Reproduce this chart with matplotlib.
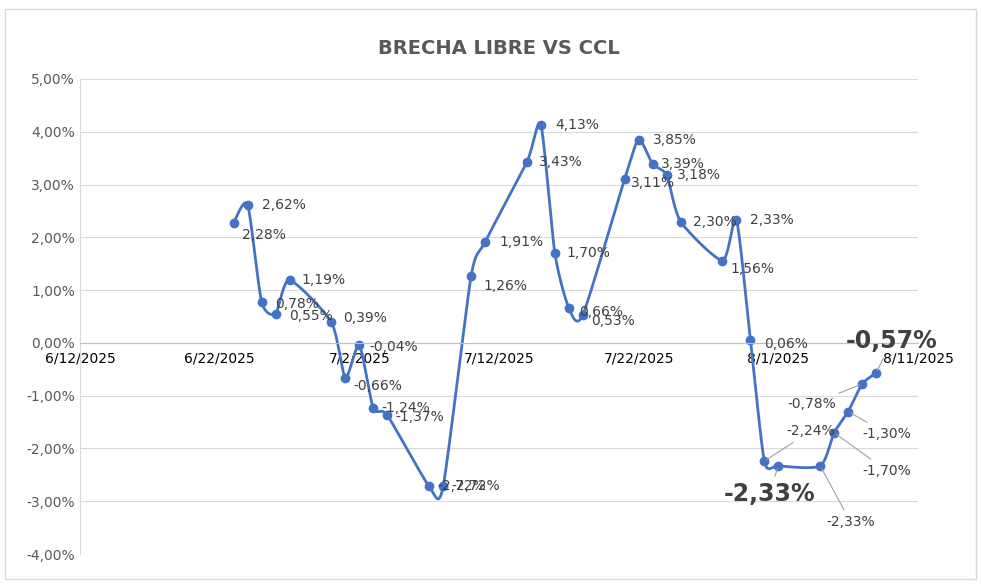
import numpy as np
import matplotlib
matplotlib.use('Agg')
import matplotlib.pyplot as plt
import matplotlib.dates as mdates
import pandas as pd

dates = ['2025-06-23', '2025-06-24', '2025-06-25', '2025-06-26', '2025-06-27', '2025-06-30',
         '2025-07-01', '2025-07-02', '2025-07-03', '2025-07-04', '2025-07-07', '2025-07-08',
         '2025-07-10', '2025-07-11', '2025-07-14', '2025-07-15', '2025-07-16', '2025-07-17',
         '2025-07-18', '2025-07-21', '2025-07-22', '2025-07-23', '2025-07-24', '2025-07-25',
         '2025-07-28', '2025-07-29', '2025-07-30', '2025-07-31', '2025-08-01', '2025-08-04',
         '2025-08-05', '2025-08-06', '2025-08-07', '2025-08-08']
values = [2.28, 2.62, 0.78, 0.55, 1.19, 0.39, -0.66, -0.04, -1.24, -1.37, -2.72, -2.72,
          1.26, 1.91, 3.43, 4.13, 1.70, 0.66, 0.53, 3.11, 3.85, 3.39, 3.18, 2.30,
          1.56, 2.33, 0.06, -2.24, -2.33, -2.33, -1.70, -1.30, -0.78, -0.57]
# label offsets in pixels (dx, dy)
offsets = [(8, -12), (14, 0), (14, -2), (14, -2), (12, 0), (12, 4), (8, -8), (10, -2), (8, 0), (8, -2),
           (8, 0), (8, 0), (12, -10), (14, 0), (12, 0), (14, 0), (12, 0), (10, -4), (8, -6), (6, -4),
           (14, 0), (8, 0), (10, 0), (12, 0), (8, -8), (14, 0), (14, -4), (22, 30), (-55, -28),
           (6, -56), (28, -38), (14, -22), (-75, -20), (-30, 32)]
big = [28, 33]

x = mdates.date2num(pd.to_datetime(dates))
y = np.array(values)

# Bezier smoothing with reduced tangents, close to Excel's smoothed line
xs, ys = [], []
px = np.concatenate([[x[0]], x, [x[-1]]])
py = np.concatenate([[y[0]], y, [y[-1]]])
t = np.linspace(0, 1, 20)
k = 0.25
for i in range(1, len(px) - 2):
    for arr, out in ((px, xs), (py, ys)):
        p0, p1, p2, p3 = arr[i-1], arr[i], arr[i+1], arr[i+2]
        c1 = p1 + k * (p2 - p0) / 2 * 0.9
        c2 = p2 - k * (p3 - p1) / 2 * 0.9
        out.extend((1-t)**3*p1 + 3*(1-t)**2*t*c1 + 3*(1-t)*t**2*c2 + t**3*p2)

fig = plt.figure(figsize=(9.81, 5.85), dpi=100)
ax = fig.add_axes([80/981, 1-554/585, 838/981, (554-79)/585])
col = '#4472C4'
ax.plot(xs, ys, color=col, lw=2)
ax.plot(x, y, 'o', color=col, ms=6)

for i, (xi, yi) in enumerate(zip(x, y)):
    lab = f'{yi:.2f}%'.replace('.', ',')
    dx, dy = offsets[i]
    kw = dict(fontsize=17, fontweight='bold') if i in big else dict(fontsize=10)
    far = abs(dx) > 20 or abs(dy) > 20
    ax.annotate(lab, (xi, yi), xytext=(dx, dy), textcoords='offset pixels',
                va='center', ha='left', color='#404040',
                arrowprops=dict(arrowstyle='-', color='#A0A0A0', lw=0.8) if far else None, **kw)

ticks = pd.date_range('2025-06-12', '2025-08-11', freq='10D')
ax.set_xlim(mdates.date2num(ticks[0]), mdates.date2num(ticks[-1]))
ax.set_xticks(mdates.date2num(ticks))
ax.set_xticklabels([f'{d.month}/{d.day}/{d.year}' for d in ticks], fontsize=10, color='#595959')
ax.spines['bottom'].set_position(('data', 0))
ax.tick_params(axis='x', length=0, pad=6)
ax.tick_params(axis='y', length=0, labelsize=10, colors='#595959')
ax.set_ylim(-4, 5)
ax.set_yticks(np.arange(-4, 5.1, 1))
ax.set_yticklabels([f'{v:.2f}%'.replace('.', ',') for v in np.arange(-4, 5.1, 1)])
ax.grid(axis='y', color='#D9D9D9', lw=0.8)
ax.set_axisbelow(True)
for s in ['top', 'right']:
    ax.spines[s].set_visible(False)
ax.spines['left'].set_color('#D9D9D9')
ax.spines['bottom'].set_color('#BFBFBF')
ax.set_title('BRECHA LIBRE VS CCL', fontsize=14, fontweight='bold', color='#595959', pad=18)

fig.patches.append(plt.Rectangle((0.005, 0.01), 0.99, 0.975, transform=fig.transFigure,
                                 fill=False, edgecolor='#D9D9D9', lw=1))
fig.savefig('out.png', dpi=100)
